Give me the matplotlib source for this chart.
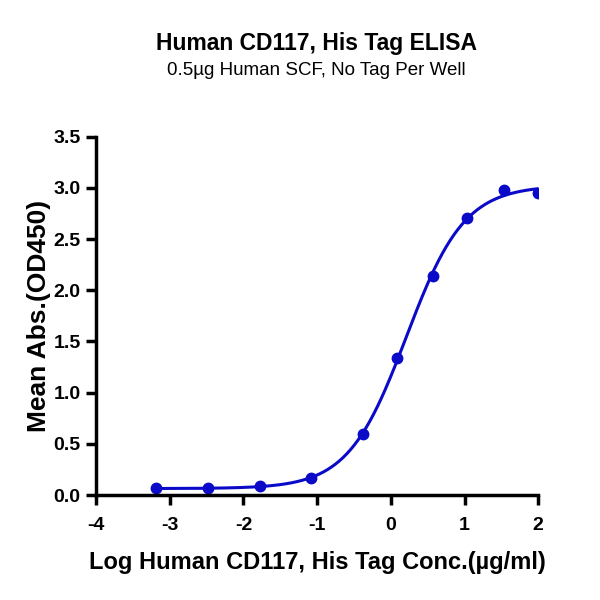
import numpy as np
import matplotlib
matplotlib.use("Agg")
import matplotlib.pyplot as plt

plt.rcParams["font.family"] = ["Liberation Sans Narrow", "Liberation Sans", "DejaVu Sans"]

# ---- Data ----
log_conc = np.array([-3.18, -2.48, -1.78, -1.08, -0.38, 0.09, 0.57, 1.04, 1.53, 2.00])
od450    = np.array([0.065, 0.065, 0.09, 0.165, 0.60, 1.34, 2.14, 2.71, 2.98, 2.95])

title    = "Human CD117, His Tag ELISA"
subtitle = "0.5\u00b5g Human SCF, No Tag Per Well"
xlabel   = "Log Human CD117, His Tag Conc.(\u00b5g/ml)"
ylabel   = "Mean Abs.(OD450)"

# ---- 4PL fit: grid over logEC50 / hill, bottom & top by linear least squares ----
best = None
for c in np.linspace(-0.5, 1.0, 151):
    for h in np.linspace(0.5, 2.5, 201):
        s = 1.0 / (1.0 + 10 ** ((c - log_conc) * h))
        A = np.column_stack([1 - s, s])
        coef, *_ = np.linalg.lstsq(A, od450, rcond=None)
        err = np.sum((A @ coef - od450) ** 2)
        if best is None or err < best[0]:
            best = (err, c, h, coef)
_, c, h, (bot, top) = best
x_fit = np.linspace(log_conc.min(), log_conc.max(), 300)
y_fit = bot + (top - bot) / (1.0 + 10 ** ((c - x_fit) * h))

# ---- Plot ----
fig = plt.figure(figsize=(6, 6), dpi=100)
ax = fig.add_axes([0.16, 0.175, 0.737, 0.597])

blue = "#0a0ac8"
ax.plot(x_fit, y_fit, color=blue, lw=2.2)
ax.plot(log_conc, od450, "o", color=blue, ms=7.5)

ax.set_xlim(-4, 2)
ax.set_ylim(0, 3.5)
ax.set_xticks(np.arange(-4, 3, 1))
ax.set_yticks(np.arange(0, 3.6, 0.5))
ax.set_xticklabels([str(t) for t in range(-4, 3)])
ax.set_yticklabels([f"{v:.1f}" for v in np.arange(0, 3.6, 0.5)])

for side in ["top", "right"]:
    ax.spines[side].set_visible(False)
for side in ["left", "bottom"]:
    ax.spines[side].set_linewidth(2.5)
ax.tick_params(width=2.5, length=7, direction="out", labelsize=14, pad=4)
ax.tick_params(axis="x", pad=9)
for lbl in ax.get_xticklabels() + ax.get_yticklabels():
    lbl.set_fontweight("bold")

ax.set_xlabel(xlabel, fontsize=17, fontweight="bold", labelpad=12)
ax.set_ylabel(ylabel, fontsize=19, fontweight="bold", labelpad=2)

fig.text(0.527, 0.927, title, ha="center", va="center", fontsize=16.5, fontweight="bold")
fig.text(0.527, 0.883, subtitle, ha="center", va="center", fontsize=13.5)

fig.savefig("out.png", dpi=100)
